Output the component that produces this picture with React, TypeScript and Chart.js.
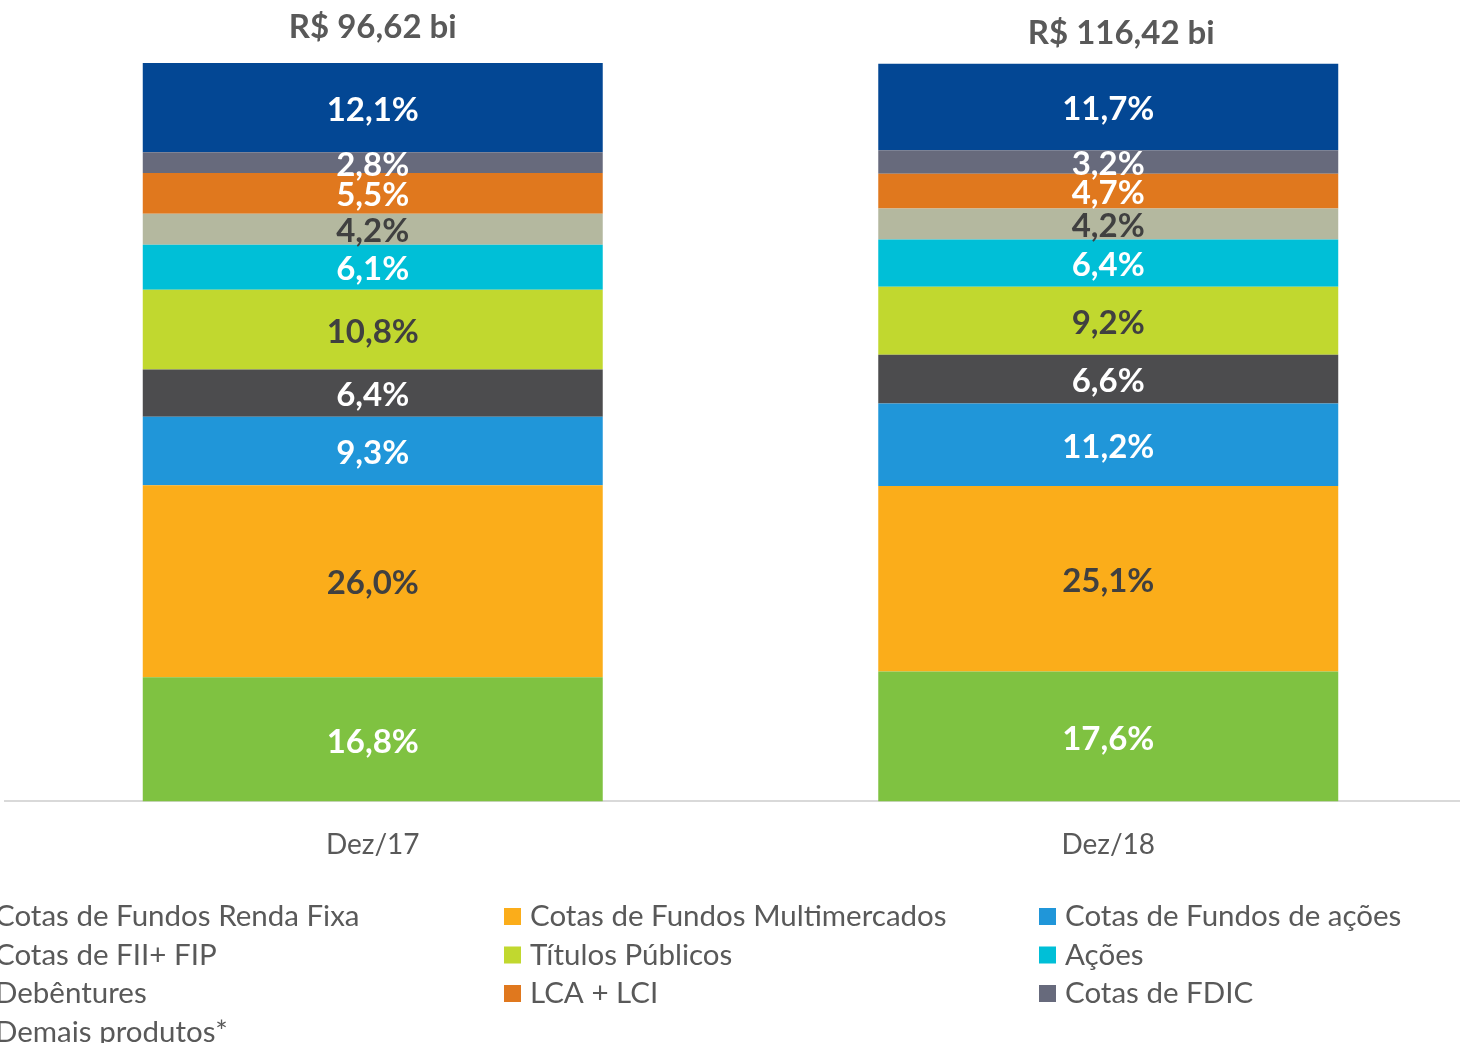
import React, { useEffect, useRef } from 'react';
import { Chart, registerables } from 'chart.js';

Chart.register(...registerables);

// ---------- data ----------
const categories = ['Dez/17', 'Dez/18'];
const totalLabels = ['R$ 96,62 bi', 'R$ 116,42 bi'];

const seriesNames = [
  'Cotas de Fundos Renda Fixa',
  'Cotas de Fundos Multimercados',
  'Cotas de Fundos de ações',
  'Cotas de FII+ FIP',
  'Títulos Públicos',
  'Ações',
  'Debêntures',
  'LCA + LCI',
  'Cotas de FDIC',
  'Demais produtos*',
];

const rendaFixa = [16.8, 17.6];
const multimercados = [26.0, 25.1];
const fundosAcoes = [9.3, 11.2];
const fiiFip = [6.4, 6.6];
const titulosPublicos = [10.8, 9.2];
const acoes = [6.1, 6.4];
const debentures = [4.2, 4.2];
const lcaLci = [5.5, 4.7];
const fdic = [2.8, 3.2];
const demaisProdutos = [12.1, 11.7];

const seriesValues = [
  rendaFixa,
  multimercados,
  fundosAcoes,
  fiiFip,
  titulosPublicos,
  acoes,
  debentures,
  lcaLci,
  fdic,
  demaisProdutos,
];

// ---------- styles ----------
const seriesColors = [
  '#7FC241',
  '#FBAD1A',
  '#2096D9',
  '#4C4C4E',
  '#C1D82F',
  '#00BFD7',
  '#B4B89F',
  '#E0781E',
  '#676A7C',
  '#034794',
];
const labelColors = [
  '#FFFFFF',
  '#404040',
  '#FFFFFF',
  '#FFFFFF',
  '#404040',
  '#FFFFFF',
  '#404040',
  '#FFFFFF',
  '#FFFFFF',
  '#FFFFFF',
];
const FONT = 'Lato, "Open Sans", sans-serif';
const TEXT_GRAY = '#595959';
const totalOffsets = [
  { dx: 0, dy: -36 },
  { dx: 13, dy: -30 },
];
const CANVAS_W = 1540;
const CANVAS_H = 1043;
const SHIFT_X = -40;

const fmt = (v: number) => v.toFixed(1).replace('.', ',') + '%';

const overlayPlugin = {
  id: 'overlay',
  afterDatasetsDraw(chart: any) {
    const ctx = chart.ctx;
    ctx.save();
    // segment labels
    ctx.font = `bold 33px ${FONT}`;
    ctx.textAlign = 'center';
    ctx.textBaseline = 'middle';
    chart.data.datasets.forEach((ds: any, di: number) => {
      const meta = chart.getDatasetMeta(di);
      meta.data.forEach((el: any, i: number) => {
        const v = ds.data[i];
        const cy = (el.y + el.base) / 2;
        ctx.fillStyle = labelColors[di];
        ctx.fillText(fmt(v), el.x, cy + 2.5);
      });
    });
    // totals above bars
    const lastMeta = chart.getDatasetMeta(chart.data.datasets.length - 1);
    ctx.font = `bold 33px ${FONT}`;
    ctx.fillStyle = TEXT_GRAY;
    lastMeta.data.forEach((el: any, i: number) => {
      const off = totalOffsets[i];
      ctx.fillText(totalLabels[i], el.x + off.dx, el.y + off.dy);
    });
    ctx.restore();
  },
  afterDraw(chart: any) {
    // legend, 3 columns, row-major
    const ctx = chart.ctx;
    ctx.save();
    ctx.font = `29.5px ${FONT}`;
    ctx.textAlign = 'left';
    ctx.textBaseline = 'middle';
    const colX0 = 9;
    const colStep = 535;
    const rowY0 = 916.5;
    const rowStep = 38.5;
    const box = 17;
    chart.data.datasets.forEach((ds: any, i: number) => {
      const col = i % 3;
      const row = Math.floor(i / 3);
      const x = colX0 + col * colStep;
      const y = rowY0 + row * rowStep;
      ctx.fillStyle = ds.backgroundColor;
      ctx.fillRect(x, y - box / 2, box, box);
      ctx.fillStyle = TEXT_GRAY;
      ctx.fillText(ds.label, x + 26, y);
    });
    ctx.restore();
  },
};

export default function App() {
  const canvasRef = useRef<HTMLCanvasElement | null>(null);

  useEffect(() => {
    document.body.style.margin = '0';
    document.body.style.overflow = 'hidden';
    const canvas = canvasRef.current;
    if (!canvas) return;
    const chart = new Chart(canvas, {
      type: 'bar',
      data: {
        labels: categories,
        datasets: seriesNames.map((name, i) => ({
          label: name,
          data: seriesValues[i],
          backgroundColor: seriesColors[i],
          borderWidth: 0,
          categoryPercentage: 1,
          barPercentage: 0.6254,
        })),
      },
      options: {
        responsive: false,
        animation: false,
        devicePixelRatio: 1,
        layout: {
          padding: { left: 45, right: 24, top: 63, bottom: 154 },
        },
        plugins: {
          legend: { display: false },
          tooltip: { enabled: false },
          title: { display: false },
        },
        scales: {
          x: {
            stacked: true,
            grid: { display: false, drawTicks: false },
            border: { display: true, color: '#D9D9D9', width: 2 },
            ticks: {
              color: TEXT_GRAY,
              font: { family: FONT, size: 28 },
              padding: 27,
            },
          },
          y: {
            stacked: true,
            display: false,
            min: 0,
            max: 100,
          },
        },
      },
      plugins: [overlayPlugin],
    });
    return () => chart.destroy();
  }, []);

  return (
    <div style={{ position: 'relative', width: 1460, height: 1043, overflow: 'hidden' }}>
      <div style={{ position: 'absolute', left: SHIFT_X, top: 0, width: CANVAS_W, height: CANVAS_H }}>
        <canvas ref={canvasRef} width={CANVAS_W} height={CANVAS_H} />
      </div>
    </div>
  );
}
